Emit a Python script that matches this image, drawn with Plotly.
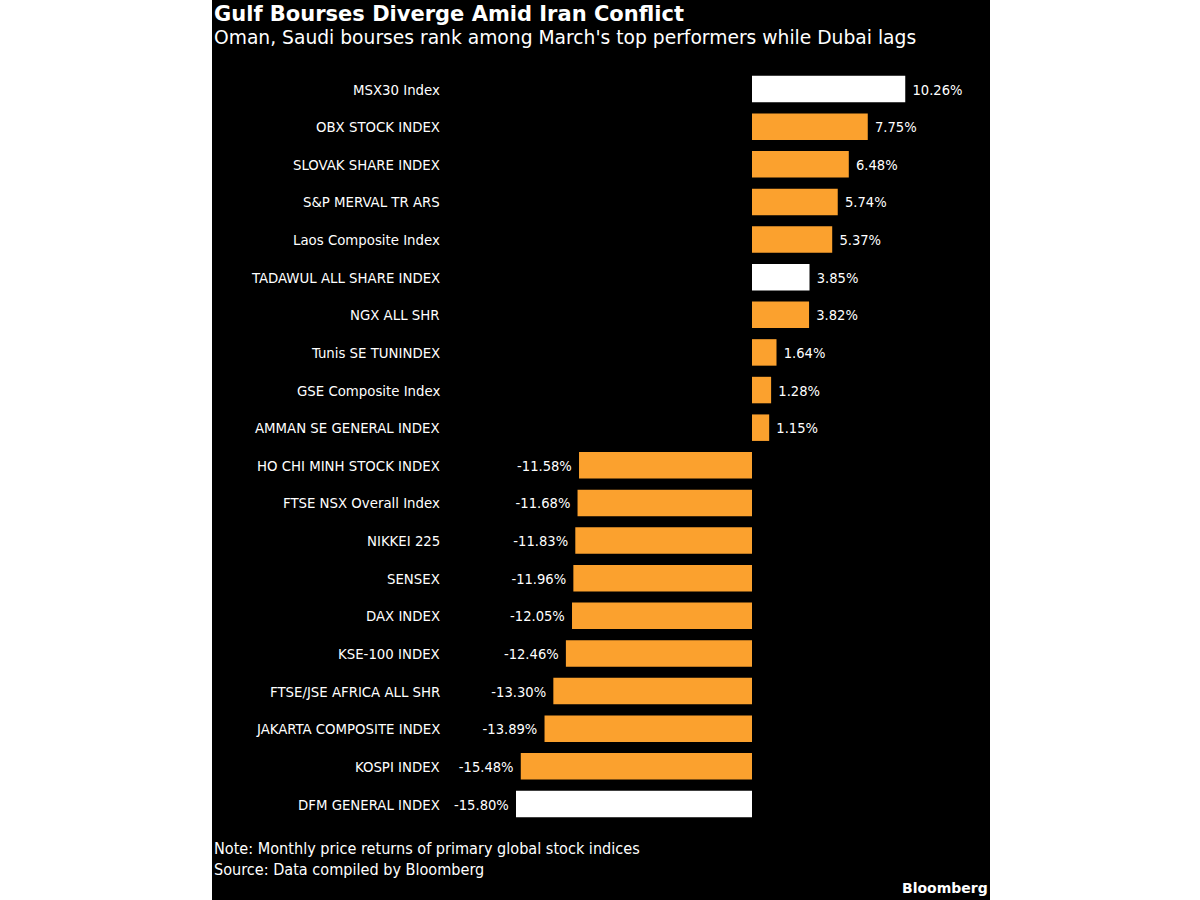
import plotly.graph_objects as go

categories = ["MSX30 Index", "OBX STOCK INDEX", "SLOVAK SHARE INDEX", "S&P MERVAL TR ARS",
              "Laos Composite Index", "TADAWUL ALL SHARE INDEX", "NGX ALL SHR", "Tunis SE TUNINDEX",
              "GSE Composite Index", "AMMAN SE GENERAL INDEX", "HO CHI MINH STOCK INDEX",
              "FTSE NSX Overall Index", "NIKKEI 225", "SENSEX", "DAX INDEX", "KSE-100 INDEX",
              "FTSE/JSE AFRICA ALL SHR", "JAKARTA COMPOSITE INDEX", "KOSPI INDEX", "DFM GENERAL INDEX"]
values = [10.26, 7.75, 6.48, 5.74, 5.37, 3.85, 3.82, 1.64, 1.28, 1.15,
          -11.58, -11.68, -11.83, -11.96, -12.05, -12.46, -13.30, -13.89, -15.48, -15.80]
highlighted = ["MSX30 Index", "TADAWUL ALL SHARE INDEX", "DFM GENERAL INDEX"]

ORANGE = "#fba12e"
colors = ["#ffffff" if c in highlighted else ORANGE for c in categories]
FONT = "DejaVu Sans Condensed, Liberation Sans Narrow, DejaVu Sans, sans-serif"

W, H = 1200, 900
L, R = 212, 990
zero_px = 752
px_per_unit = (zero_px - 516) / 15.80
x0 = (L - zero_px) / px_per_unit
x1 = (R - zero_px) / px_per_unit
row0, step = 89.0, (804.0 - 89.0) / 19
y_top = -row0 / step
y_bot = (H - row0) / step

idx = list(range(len(categories)))
fig = go.Figure()
fig.add_trace(go.Bar(
    x=values, y=idx, orientation="h",
    marker=dict(color=colors, line=dict(width=0)),
    width=26.5 / step,
    text=[f" {v:.2f}%" if v > 0 else f"{v:.2f}% " for v in values],
    textposition="outside",
    textfont=dict(color="white", size=14.6, family=FONT),
    cliponaxis=False,
    constraintext="none",
    hoverinfo="skip",
))

label_x = (442 - zero_px) / px_per_unit
annotations = []
for i, c in enumerate(categories):
    annotations.append(dict(x=label_x, y=i, xref="x", yref="y", text=c, showarrow=False,
                            xanchor="right", yanchor="middle",
                            font=dict(color="white", size=14.8, family=FONT)))

def py(p):
    return 1 - p / H

def pxp(p):
    return (p - L) / (R - L)

annotations += [
    dict(x=pxp(L), y=py(0), xref="paper", yref="paper", xanchor="left", yanchor="top",
         text="<b>Gulf Bourses Diverge Amid Iran Conflict</b>", showarrow=False,
         font=dict(color="white", size=21, family="DejaVu Sans, sans-serif")),
    dict(x=pxp(L), y=py(25), xref="paper", yref="paper", xanchor="left", yanchor="top",
         text="Oman, Saudi bourses rank among March's top performers while Dubai lags", showarrow=False,
         font=dict(color="white", size=18.7, family="DejaVu Sans, sans-serif")),
    dict(x=pxp(L), y=py(848), xref="paper", yref="paper", xanchor="left", yanchor="middle",
         text="Note: Monthly price returns of primary global stock indices", showarrow=False,
         font=dict(color="white", size=16.1, family=FONT)),
    dict(x=pxp(L), y=py(869), xref="paper", yref="paper", xanchor="left", yanchor="middle",
         text="Source: Data compiled by Bloomberg", showarrow=False,
         font=dict(color="white", size=16.1, family=FONT)),
    dict(x=pxp(R), y=py(888), xref="paper", yref="paper", xanchor="right", yanchor="middle",
         text="<b>Bloomberg</b>", showarrow=False,
         font=dict(color="white", size=14, family="DejaVu Sans, sans-serif")),
]

fig.update_layout(
    width=W, height=H,
    margin=dict(l=L, r=W - R, t=0, b=0, pad=0),
    paper_bgcolor="white", plot_bgcolor="black",
    showlegend=False,
    xaxis=dict(range=[x0, x1], visible=False, fixedrange=True),
    yaxis=dict(range=[y_bot, y_top], visible=False, fixedrange=True),
    annotations=annotations,
)

fig.write_html("out.html", config={"displayModeBar": False},
               post_script="document.body.style.margin='0';document.body.style.overflow='hidden';")
